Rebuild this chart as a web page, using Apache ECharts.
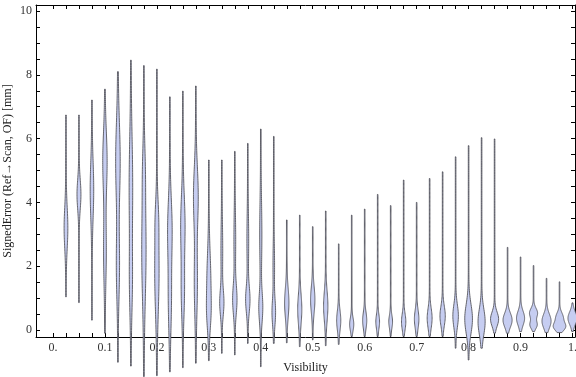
<!DOCTYPE html>
<html>
<head>
<meta charset="utf-8">
<script src="https://cdn.jsdelivr.net/npm/echarts@6/dist/echarts.min.js"></script>
<style>
    html, body { margin: 0; padding: 0; background: #fff; }
    #main { width: 576px; height: 377px; }
</style>
</head>
<body>
<div id="main"></div>
<script>
    // visibility bins (violin positions)
    var visibility = [0.025, 0.05, 0.075, 0.1, 0.125, 0.15, 0.175, 0.2, 0.225, 0.25,
        0.275, 0.3, 0.325, 0.35, 0.375, 0.4, 0.425, 0.45, 0.475, 0.5,
        0.525, 0.55, 0.575, 0.6, 0.625, 0.65, 0.675, 0.7, 0.725, 0.75,
        0.775, 0.8, 0.825, 0.85, 0.875, 0.9, 0.925, 0.95, 0.975, 1.0];
    // extent of each distribution (mm)
    var errMin = [1.04, 0.86, 0.31, -0.1, -1.01, -1.13, -1.46, -1.43, -1.31, -1.18,
        -1.04, -0.96, -0.73, -0.78, -0.42, -1.15, -0.42, -0.4, -0.52, -0.31,
        -0.49, -0.45, -0.2, -0.2, -0.2, -0.2, -0.2, -0.2, -0.2, -0.2,
        -0.57, -0.94, -0.57, -0.1, -0.1, -0.05, -0.05, -0.08, -0.08, -0.05];
    var errMax = [6.74, 6.74, 7.21, 7.55, 8.1, 8.46, 8.29, 8.18, 7.31, 7.49,
        7.65, 5.33, 5.33, 5.6, 5.85, 6.3, 6.07, 3.45, 3.6, 3.24,
        3.73, 2.7, 3.6, 3.79, 4.25, 3.9, 4.7, 4.0, 4.75, 4.96,
        5.43, 5.78, 6.03, 5.99, 2.59, 2.29, 2.02, 1.62, 1.51, 0.85];
    // main density bump
    var modeY = [3.2, 4.25, 4.4, 5.3, 5.3, 4.5, 2.5, 1.8, 3.2, 3.3,
        4.2, 1.5, 0.85, 0.95, 0.95, 0.7, 0.55, 0.85, 0.65, 0.95,
        0.75, 0.3, 0.18, 0.3, 0.26, 0.26, 0.26, 0.34, 0.37, 0.44,
        0.44, 0.35, 0.26, 0.34, 0.31, 0.37, 0.53, 0.28, 0.1, 0.37];
    var spread = [0.63, 0.45, 0.85, 0.9, 1.2, 1.5, 1.5, 1.2, 0.9, 0.9,
        0.9, 0.9, 0.4, 0.45, 0.4, 0.45, 0.4, 0.45, 0.45, 0.4,
        0.45, 0.3, 0.2, 0.25, 0.22, 0.2, 0.25, 0.28, 0.3, 0.3,
        0.35, 0.45, 0.4, 0.22, 0.22, 0.22, 0.15, 0.22, 0.13, 0.2];
    var peakDensity = [1.6, 1.7, 1.5, 1.9, 2.0, 1.5, 1.9, 1.9, 1.9, 1.9,
        2.1, 1.7, 1.8, 1.9, 1.9, 1.7, 1.5, 1.9, 1.8, 1.9,
        1.9, 1.8, 1.8, 1.8, 1.6, 1.6, 1.9, 2.0, 2.2, 2.4,
        2.5, 3.6, 3.3, 3.8, 4.3, 3.8, 3.8, 4.3, 5.6, 4.3];
    // secondary density bump
    var mode2Y = [0, 0, 0, 2.5, 2.0, 1.5, 5.0, 3.5, 1.0, 1.2,
        1.5, 0.5, 2.5, 2.8, 2.8, 3.0, 2.0, 0, 0, 0,
        0, 0, 0, 0, 0, 0, 0, 0, 0, 0,
        0, 0, 0, 0, 0, 0, 0.16, 0, 0.4, 0];
    var spread2 = [0, 0, 0, 1.0, 1.0, 1.0, 0.8, 0.6, 1.0, 0.8,
        1.0, 0.5, 0.8, 0.8, 0.8, 1.0, 0.6, 0, 0, 0,
        0, 0, 0, 0, 0, 0, 0, 0, 0, 0,
        0, 0, 0, 0, 0, 0, 0.12, 0, 0.15, 0];
    var peak2Density = [0, 0, 0, 1.1, 1.3, 1.1, 0.8, 0.9, 1.3, 1.3,
        1.3, 1.1, 0.6, 0.6, 0.6, 0.8, 0.5, 0, 0, 0,
        0, 0, 0, 0, 0, 0, 0, 0, 0, 0,
        0, 0, 0, 0, 0, 0, 3.3, 0, 3.3, 0];

    var xTickValues = [0, 0.1, 0.2, 0.3, 0.4, 0.5, 0.6, 0.7, 0.8, 0.9, 1];
    var xTickLabels = ['0.', '0.1', '0.2', '0.3', '0.4', '0.5', '0.6', '0.7', '0.8', '0.9', '1.'];
    var yTickValues = [0, 2, 4, 6, 8, 10];
    var yTickLabels = ['0', '2', '4', '6', '8', '10'];

    var densityScale = 0.0019;   // x units per density unit
    var baseDensity = 0.3;       // thin tail between min and max
    var serif = '"Liberation Serif", "DejaVu Serif", serif';

    var xMinor = [], yMinor = [];
    for (var i = 0; i <= 40; i++) xMinor.push(+(i * 0.025).toFixed(3));
    for (var j = 0; j <= 20; j++) yMinor.push(j * 0.5);

    var violinData = visibility.map(function (v, i) {
        return [v, errMin[i], errMax[i], modeY[i], spread[i], peakDensity[i],
            mode2Y[i], spread2[i], peak2Density[i]];
    });

    function renderViolin(params, api) {
        var x = api.value(0), lo = api.value(1), hi = api.value(2);
        var mu = api.value(3), s = api.value(4), p = api.value(5);
        var mu2 = api.value(6), s2 = api.value(7), p2 = api.value(8);
        var n = 120, left = [], right = [];
        for (var k = 0; k <= n; k++) {
            var y = lo + (hi - lo) * k / n;
            var d = baseDensity + p * Math.exp(-0.5 * Math.pow((y - mu) / s, 2));
            if (s2 > 0) d += p2 * Math.exp(-0.5 * Math.pow((y - mu2) / s2, 2));
            left.push(api.coord([x - d * densityScale, y]));
            right.push(api.coord([x + d * densityScale, y]));
        }
        return {
            type: 'polygon',
            shape: { points: left.concat(right.reverse()) },
            style: { fill: '#c6cdf1', stroke: '#55555c', lineWidth: 0.9 }
        };
    }

    var XMIN = -0.0327, XMAX = 1.0048, YMIN = -0.219, YMAX = 10.19;
    var frameLine = { show: true, onZero: false, lineStyle: { color: '#000', width: 1 } };

    var chart = echarts.init(document.getElementById('main'));
    var option = {
        backgroundColor: '#fff',
        animation: false,
        grid: { left: 36, right: 1, top: 5, bottom: 40, outerBoundsMode: 'none' },
        xAxis: [
            {
                type: 'value', position: 'bottom', min: XMIN, max: XMAX,
                axisLine: frameLine,
                axisTick: { show: true, inside: true, length: 4, customValues: xMinor, lineStyle: { color: '#000' } },
                axisLabel: {
                    customValues: xTickValues, margin: 5, color: '#333', fontFamily: serif, fontSize: 12,
                    formatter: function (v) {
                        var idx = xTickValues.indexOf(Math.round(v * 10) / 10);
                        return idx >= 0 ? xTickLabels[idx] : '';
                    }
                },
                splitLine: { show: false },
                name: 'Visibility', nameLocation: 'middle', nameGap: 25, nameMoveOverlap: false,
                nameTextStyle: { color: '#222', fontFamily: serif, fontSize: 12 }
            },
            {
                type: 'value', position: 'top', min: XMIN, max: XMAX,
                axisLine: frameLine,
                axisTick: { show: true, inside: true, length: 4, customValues: xMinor, lineStyle: { color: '#000' } },
                axisLabel: { show: false },
                splitLine: { show: false }
            }
        ],
        yAxis: [
            {
                type: 'value', position: 'left', min: YMIN, max: YMAX,
                axisLine: frameLine,
                axisTick: { show: true, inside: true, length: 4, customValues: yMinor, lineStyle: { color: '#000' } },
                axisLabel: {
                    customValues: yTickValues, margin: 4, color: '#333', fontFamily: serif, fontSize: 12,
                    formatter: function (v) {
                        var idx = yTickValues.indexOf(Math.round(v));
                        return idx >= 0 ? yTickLabels[idx] : '';
                    }
                },
                splitLine: { show: false },
                name: 'SignedError (Ref\u2192Scan, OF) [mm]', nameLocation: 'middle', nameGap: 22,
                nameMoveOverlap: false,
                nameTextStyle: { color: '#222', fontFamily: serif, fontSize: 12 }
            },
            {
                type: 'value', position: 'right', min: YMIN, max: YMAX,
                axisLine: frameLine,
                axisTick: { show: true, inside: true, length: 4, customValues: yMinor, lineStyle: { color: '#000' } },
                axisLabel: { show: false },
                splitLine: { show: false }
            }
        ],
        series: [
            {
                name: 'SignedError',
                type: 'custom',
                coordinateSystem: 'cartesian2d',
                xAxisIndex: 0,
                yAxisIndex: 0,
                clip: false,
                silent: true,
                renderItem: renderViolin,
                data: violinData
            }
        ]
    };
    chart.setOption(option);
</script>
</body>
</html>
